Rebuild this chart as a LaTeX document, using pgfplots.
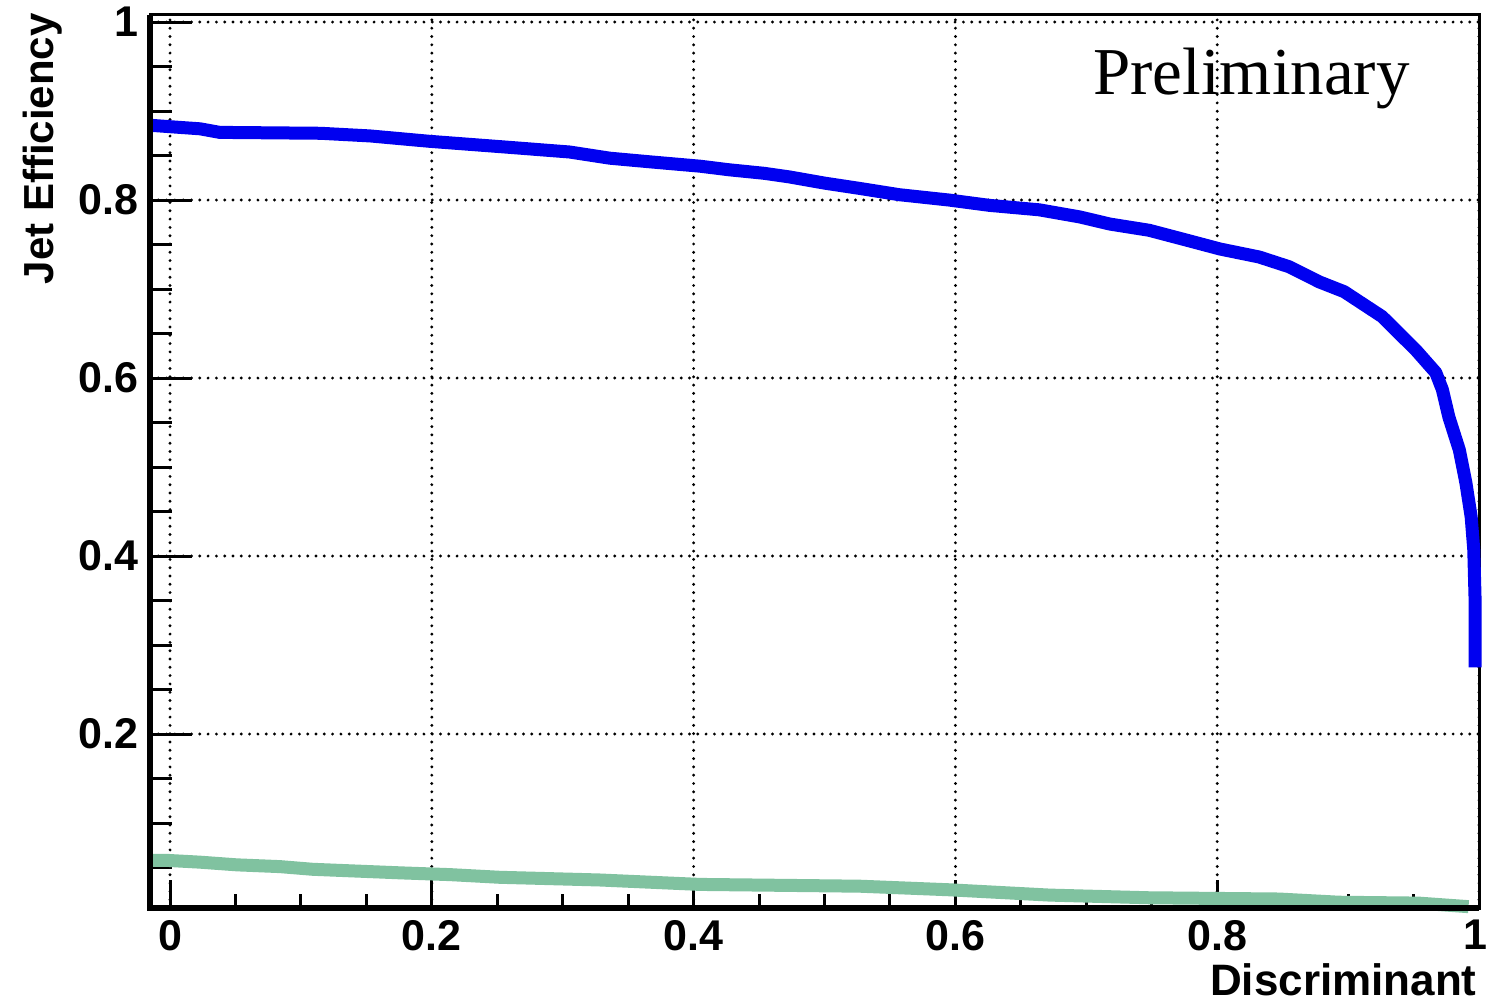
\documentclass[border=0pt]{standalone}
\usepackage{pgfplots}
\usepackage{pgfplotstable}
\pgfplotsset{compat=1.18}
\usepackage{fontspec}
\setmainfont{Liberation Sans}
\newfontfamily\serifface{Liberation Serif}

% efficiency vs. discriminant cut: signal (b) jets
\pgfplotstableread{
x y
-0.0153 0.884
0.023 0.880
0.038 0.876
0.115 0.875
0.153 0.872
0.198 0.866
0.252 0.860
0.305 0.854
0.336 0.847
0.366 0.843
0.405 0.838
0.427 0.834
0.454 0.830
0.473 0.826
0.500 0.819
0.527 0.813
0.557 0.806
0.595 0.800
0.626 0.794
0.664 0.789
0.695 0.781
0.718 0.773
0.748 0.766
0.779 0.754
0.802 0.745
0.832 0.736
0.855 0.725
0.878 0.708
0.897 0.697
0.926 0.669
0.952 0.631
0.967 0.606
0.972 0.587
0.977 0.556
0.985 0.519
0.990 0.482
0.994 0.444
0.996 0.407
0.997 0.351
0.997 0.275
}\sigeff

% efficiency vs. discriminant cut: background (light) jets
\pgfplotstableread{
x y
-0.0153 0.058
-0.002 0.058
0.023 0.056
0.051 0.053
0.084 0.051
0.109 0.048
0.176 0.044
0.214 0.042
0.252 0.039
0.328 0.036
0.405 0.031
0.527 0.029
0.595 0.025
0.672 0.019
0.748 0.016
0.847 0.0146
0.893 0.011
0.954 0.010
0.992 0.006
}\bkgeff

\definecolor{sigblue}{RGB}{0,0,240}
\definecolor{bkggreen}{RGB}{128,194,160}

\begin{document}
\begin{tikzpicture}
\useasboundingbox (0,0) rectangle (743pt,501pt);
\begin{axis}[
  at={(75pt,47pt)}, anchor=south west,
  scale only axis, width=664.5pt, height=446.5pt,
  xmin=-0.0153, xmax=1, ymin=0.0045, ymax=1.0079,
  clip=false,
  xtick={0,0.2,0.4,0.6,0.8,1},
  xticklabels={0,0.2,0.4,0.6,0.8,\hspace*{-4pt}1},
  ytick={0.2,0.4,0.6,0.8,1},
  yticklabels={0.2,0.4,0.6,0.8,1},
  minor xtick={0.05,0.1,0.15,0.25,0.3,0.35,0.45,0.5,0.55,0.65,0.7,0.75,0.85,0.9,0.95},
  minor ytick={0.05,0.1,0.15,0.25,0.3,0.35,0.45,0.5,0.55,0.65,0.7,0.75,0.85,0.9,0.95},
  xtick pos=bottom, ytick pos=left,
  tick align=inside,
  tick style={black, line width=1.5pt},
  x tick style={/pgfplots/major tick length=14pt, /pgfplots/minor tick length=7pt},
  y tick style={/pgfplots/major tick length=21pt, /pgfplots/minor tick length=11pt},
  grid=major,
  major grid style={black, line width=1.6pt, line cap=round, dash pattern=on 0pt off 4.15pt},
  axis line style={black, line width=1.5pt},
  ticklabel style={font=\fontsize{21.5}{24}\selectfont\bfseries, inner sep=0pt},
  xticklabel style={yshift=-6pt},
  yticklabel style={xshift=-5.5pt},
]
\addplot[bkggreen, line width=6.5pt, line join=round] table[x=x, y=y] {\bkgeff};
\addplot[sigblue, line width=6.5pt, line join=round] table[x=x, y=y] {\sigeff};
\draw[black, line width=3pt] (rel axis cs:0,1) -- (rel axis cs:0,0) -- (rel axis cs:1,0);
\end{axis}
\node[rotate=90, anchor=base east, inner sep=0pt, font=\fontsize{21}{24}\selectfont\bfseries]
  at (26.5pt,494.5pt) {Jet Efficiency};
\node[anchor=base east, inner sep=0pt, font=\fontsize{22}{24}\selectfont\bfseries]
  at (738.5pt,3.5pt) {Discriminant};
\node[anchor=base west, inner sep=0pt, font=\serifface\fontsize{33.5}{36}\selectfont]
  at (546.5pt,453.5pt) {Preliminary};
\end{tikzpicture}
\end{document}
